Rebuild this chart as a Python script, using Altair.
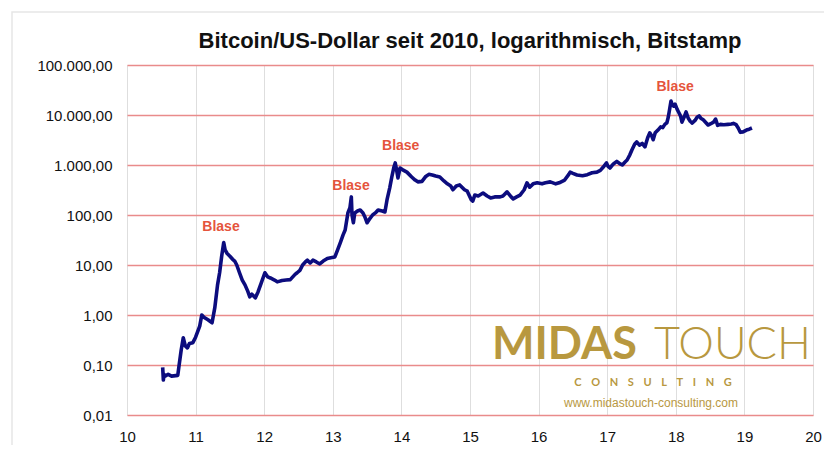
import altair as alt
import pandas as pd

years = [10.52, 10.53, 10.54, 10.56, 10.60, 10.65, 10.74, 10.76, 10.79, 10.82, 10.85, 10.88, 10.91, 10.96,
         11.00, 11.06, 11.09, 11.12, 11.18, 11.24, 11.28, 11.32, 11.35, 11.38, 11.41, 11.43, 11.46, 11.50,
         11.54, 11.57, 11.60, 11.64, 11.68, 11.72, 11.76, 11.79, 11.82, 11.87, 11.91, 11.96,
         12.01, 12.05, 12.09, 12.15, 12.19, 12.26, 12.32, 12.38, 12.45, 12.48, 12.52, 12.56, 12.60, 12.63,
         12.67, 12.71, 12.76, 12.81, 12.86, 12.92, 12.97,
         13.03, 13.07, 13.11, 13.15, 13.18, 13.22, 13.25, 13.27, 13.28, 13.30, 13.32, 13.36, 13.40, 13.44,
         13.47, 13.50, 13.54, 13.58, 13.62, 13.66, 13.72, 13.76, 13.79, 13.83, 13.86, 13.89, 13.91, 13.93,
         13.95, 13.98,
         14.02, 14.08, 14.15, 14.20, 14.24, 14.30, 14.35, 14.40, 14.45, 14.50, 14.56, 14.62, 14.67, 14.72,
         14.75, 14.80, 14.85, 14.92, 14.96,
         15.02, 15.04, 15.07, 15.12, 15.19, 15.25, 15.30, 15.36, 15.44, 15.48, 15.54, 15.60, 15.63, 15.68,
         15.73, 15.79, 15.83, 15.87, 15.92, 15.98,
         16.05, 16.10, 16.17, 16.25, 16.30, 16.38, 16.44, 16.46, 16.50, 16.56, 16.64, 16.71, 16.78, 16.85,
         16.90, 16.94, 16.99,
         17.01, 17.04, 17.09, 17.14, 17.19, 17.22, 17.26, 17.29, 17.33, 17.36, 17.40, 17.43, 17.47, 17.51,
         17.55, 17.59, 17.62, 17.65, 17.67, 17.70, 17.74, 17.78, 17.81, 17.84, 17.87, 17.89, 17.91, 17.93,
         17.95, 17.97, 17.99,
         18.02, 18.04, 18.07, 18.09, 18.12, 18.15, 18.18, 18.21, 18.24, 18.28, 18.31, 18.34, 18.37, 18.40,
         18.44, 18.47, 18.51, 18.55, 18.58, 18.61, 18.65, 18.70, 18.76, 18.81, 18.84, 18.88, 18.91, 18.94,
         18.98, 19.03, 19.07, 19.11]

prices = [0.09, 0.05, 0.065, 0.06, 0.065, 0.06, 0.062, 0.1, 0.2, 0.35, 0.24, 0.22, 0.27, 0.28,
          0.36, 0.6, 1.0, 0.9, 0.8, 0.7, 1.4, 4, 7, 15, 28, 20, 17, 15,
          13, 12, 10, 7, 5, 4, 3, 2.3, 2.6, 2.2, 2.9, 4.5,
          7, 5.8, 5.5, 5, 4.6, 4.9, 5, 5.1, 6.5, 7, 7.8, 10, 11.5, 12.5,
          11, 12.5, 11.5, 10.5, 12, 13.5, 14,
          14.5, 20, 28, 40, 50, 110, 140, 230, 100, 70, 110, 120, 126, 110,
          90, 70, 85, 100, 110, 126, 120, 115, 200, 350, 575, 900, 1100, 800,
          550, 870,
          800, 720, 575, 500, 460, 470, 580, 650, 630, 600, 575, 480, 420, 380,
          320, 380, 400, 320, 300,
          200, 190, 250, 240, 275, 240, 220, 230, 230, 240, 290, 230, 210, 230,
          250, 320, 440, 360, 420, 440,
          420, 440, 460, 420, 440, 500, 650, 720, 680, 630, 610, 640, 700, 720,
          780, 900, 1100,
          950, 870, 1050, 1180, 1050, 1000, 1150, 1260, 1600, 2000, 2600, 2900, 2500, 2700,
          2300, 3500, 4400, 3800, 3200, 4400, 5000, 5800, 5600, 6500, 7000, 9000, 13000, 19000,
          16000, 15000, 16500,
          13000, 11500, 9500, 7200, 9000, 11500, 8700, 7500, 6900, 7800, 9000, 9600, 8500, 8000,
          7000, 6300, 6700, 7200, 8300, 6200, 6500, 6400, 6500, 6600, 6800, 6400, 5500, 4500,
          4600, 5000, 5200, 5500]

bubble_years = [11.37, 13.265, 13.99, 17.99]
bubble_prices = [57, 380, 2400, 36000]
bubble_labels = ["Blase", "Blase", "Blase", "Blase"]

y_ticks = [0.01, 0.1, 1, 10, 100, 1000, 10000, 100000]
x_ticks = list(range(10, 21))

title_text = "Bitcoin/US-Dollar seit 2010, logarithmisch, Bitstamp"

df = pd.DataFrame({"jahr": years, "kurs": prices})
bub = pd.DataFrame({"jahr": bubble_years, "kurs": bubble_prices, "txt": bubble_labels})

FONT = "Liberation Sans"
GOLD = "#b8983f"

label_expr = ("datum.value >= 99999 ? '100.000,00' : datum.value >= 9999 ? '10.000,00' : "
              "datum.value >= 999 ? '1.000,00' : datum.value >= 99 ? '100,00' : "
              "datum.value >= 9 ? '10,00' : datum.value >= 0.9 ? '1,00' : "
              "datum.value >= 0.09 ? '0,10' : '0,01'")

x_enc = alt.X("jahr:Q",
              scale=alt.Scale(domain=[10, 20], nice=False, zero=False),
              axis=alt.Axis(values=x_ticks, format="d", title=None, grid=True,
                            gridColor="#dedede", gridWidth=1, domain=False, ticks=False,
                            labelFont=FONT, labelFontSize=15, labelColor="#111111",
                            labelPadding=14, labelFlush=False))
y_enc = alt.Y("kurs:Q",
              scale=alt.Scale(type="log", domain=[0.01, 100000], nice=False),
              axis=alt.Axis(values=y_ticks, labelExpr=label_expr, title=None, grid=True,
                            gridColor="#e98b8b", gridWidth=1.5, domain=False, ticks=False,
                            labelFont=FONT, labelFontSize=15, labelColor="#111111",
                            labelPadding=15))

one = pd.DataFrame({"a": [0]})

frame = alt.Chart(one).mark_rect(
    fill=None, stroke="#e6e6e6", strokeWidth=1.5
).encode(x=alt.value(-115), x2=alt.value(720), y=alt.value(-53), y2=alt.value(420))

title = alt.Chart(one).mark_text(text=title_text, font=FONT, fontSize=22, fontWeight="bold",
                                 color="#111111", align="center",
                                 baseline="alphabetic").encode(
    x=alt.value(343), y=alt.value(-17))

line = alt.Chart(df).mark_line(color="#0c0c7e", strokeWidth=3.6, strokeJoin="round").encode(
    x=x_enc, y=y_enc)

blase = alt.Chart(bub).mark_text(font=FONT, fontSize=14, fontWeight="bold",
                                 color="#e5543c").encode(
    x="jahr:Q", y="kurs:Q", text="txt:N")

midas = alt.Chart(one).mark_text(text="MIDAS", font="Lato", fontSize=45, fontWeight="bold",
                                 color=GOLD, align="left", baseline="alphabetic").encode(
    x=alt.value(365), y=alt.value(294))
touch = alt.Chart(one).mark_text(text="TOUCH", font="Lato", fontSize=45, fontWeight=300,
                                 color=GOLD, align="right", baseline="alphabetic").encode(
    x=alt.value(684), y=alt.value(294))
sp = "\u2003\u2009"
consult = alt.Chart(one).mark_text(text=sp.join("CONSULTING"), font="Lato",
                                   fontSize=11, fontWeight="bold", color=GOLD,
                                   align="center", baseline="middle").encode(
    x=alt.value(526), y=alt.value(318))
url = alt.Chart(one).mark_text(text="www.midastouch-consulting.com", font=FONT,
                               fontSize=12, color=GOLD, align="center",
                               baseline="middle").encode(
    x=alt.value(524), y=alt.value(338))

chart = alt.layer(frame, title, midas, touch, consult, url, line, blase).properties(
    width=686, height=350,
    autosize=alt.AutoSizeParams(type="none"),
    padding={"left": 119, "top": 57, "right": 11, "bottom": 30},
).configure_view(stroke=None).configure(background="white")

chart.save("out.html", embed_options={"renderer": "svg", "actions": False})
